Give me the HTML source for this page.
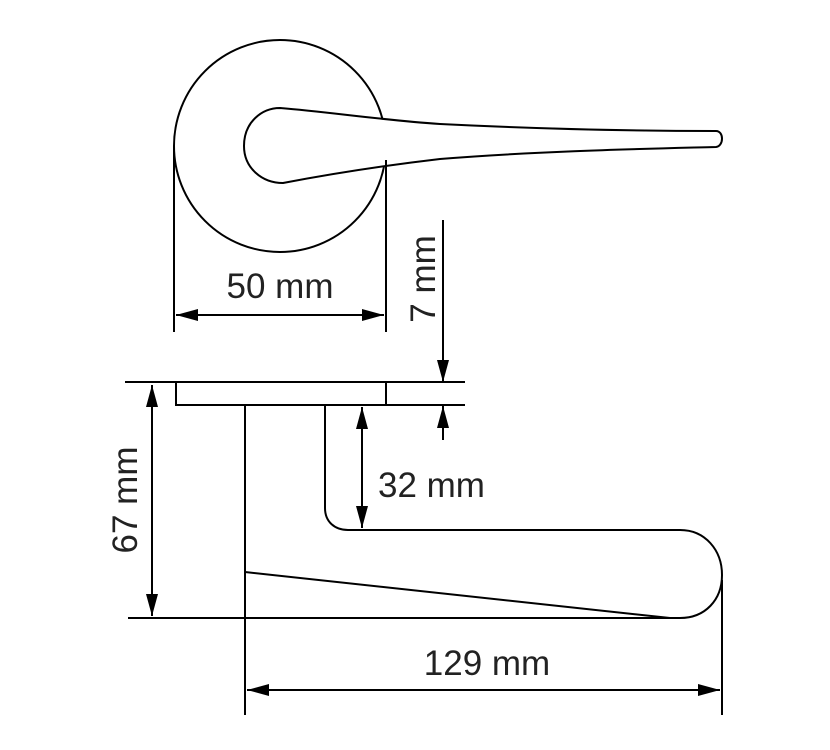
<!DOCTYPE html>
<html><head><style>html,body{margin:0;padding:0;background:#fff}svg{display:block}text{font-family:"Liberation Sans",sans-serif;font-size:35px;fill:#222}</style></head>
<body>
<svg width="830" height="750" viewBox="0 0 830 750" xmlns="http://www.w3.org/2000/svg">
<defs>
<marker id="a" viewBox="0 0 22 12" refX="22" refY="6" markerWidth="22" markerHeight="12" markerUnits="userSpaceOnUse" orient="auto-start-reverse"><path d="M0,0 L22,6 L0,12 Z" fill="#000"/></marker>
</defs>
<g fill="none" stroke="#000" stroke-width="2">
<circle cx="280" cy="146" r="106"/>
<path d="M280,108 C262,108 244,122 244,146 C244,168 262,183 283,183 C330,174 380,166 440,159 C540,151 640,149 716,147 C724,146 724,131 716,131 C640,131 540,129 440,124 C380,120 330,112 280,108 Z" fill="#fff"/>
<line x1="174" y1="146" x2="174" y2="332"/>
<line x1="386" y1="160" x2="386" y2="332"/>
<line x1="176" y1="315" x2="384" y2="315" marker-start="url(#a)" marker-end="url(#a)"/>
<line x1="443" y1="220" x2="443" y2="382" marker-end="url(#a)"/>
<line x1="443" y1="440" x2="443" y2="406" marker-end="url(#a)"/>
<line x1="125" y1="382" x2="465" y2="382"/>
<line x1="386" y1="405" x2="465" y2="405"/>
<rect x="176" y="382" width="210" height="23"/>
<line x1="245" y1="405" x2="245" y2="715"/>
<path d="M325,405 L325,508 C325,522 335,530 348,530 L680,530 C705,530 722,550 722,575 C722,600 705,618 680,618"/>
<path d="M245,572 L670,618"/>
<line x1="128" y1="618" x2="680" y2="618"/>
<line x1="152" y1="385" x2="152" y2="616" marker-start="url(#a)" marker-end="url(#a)"/>
<line x1="362" y1="407" x2="362" y2="528" marker-start="url(#a)" marker-end="url(#a)"/>
<line x1="722" y1="580" x2="722" y2="715"/>
<line x1="247" y1="690" x2="720" y2="690" marker-start="url(#a)" marker-end="url(#a)"/>
</g>
<text x="280" y="298" text-anchor="middle">50 mm</text>
<text x="378" y="497">32 mm</text>
<text x="487" y="675" text-anchor="middle">129 mm</text>
<text transform="translate(435,279) rotate(-90)" text-anchor="middle">7 mm</text>
<text transform="translate(137,500) rotate(-90)" text-anchor="middle">67 mm</text>
</svg>
</body></html>
